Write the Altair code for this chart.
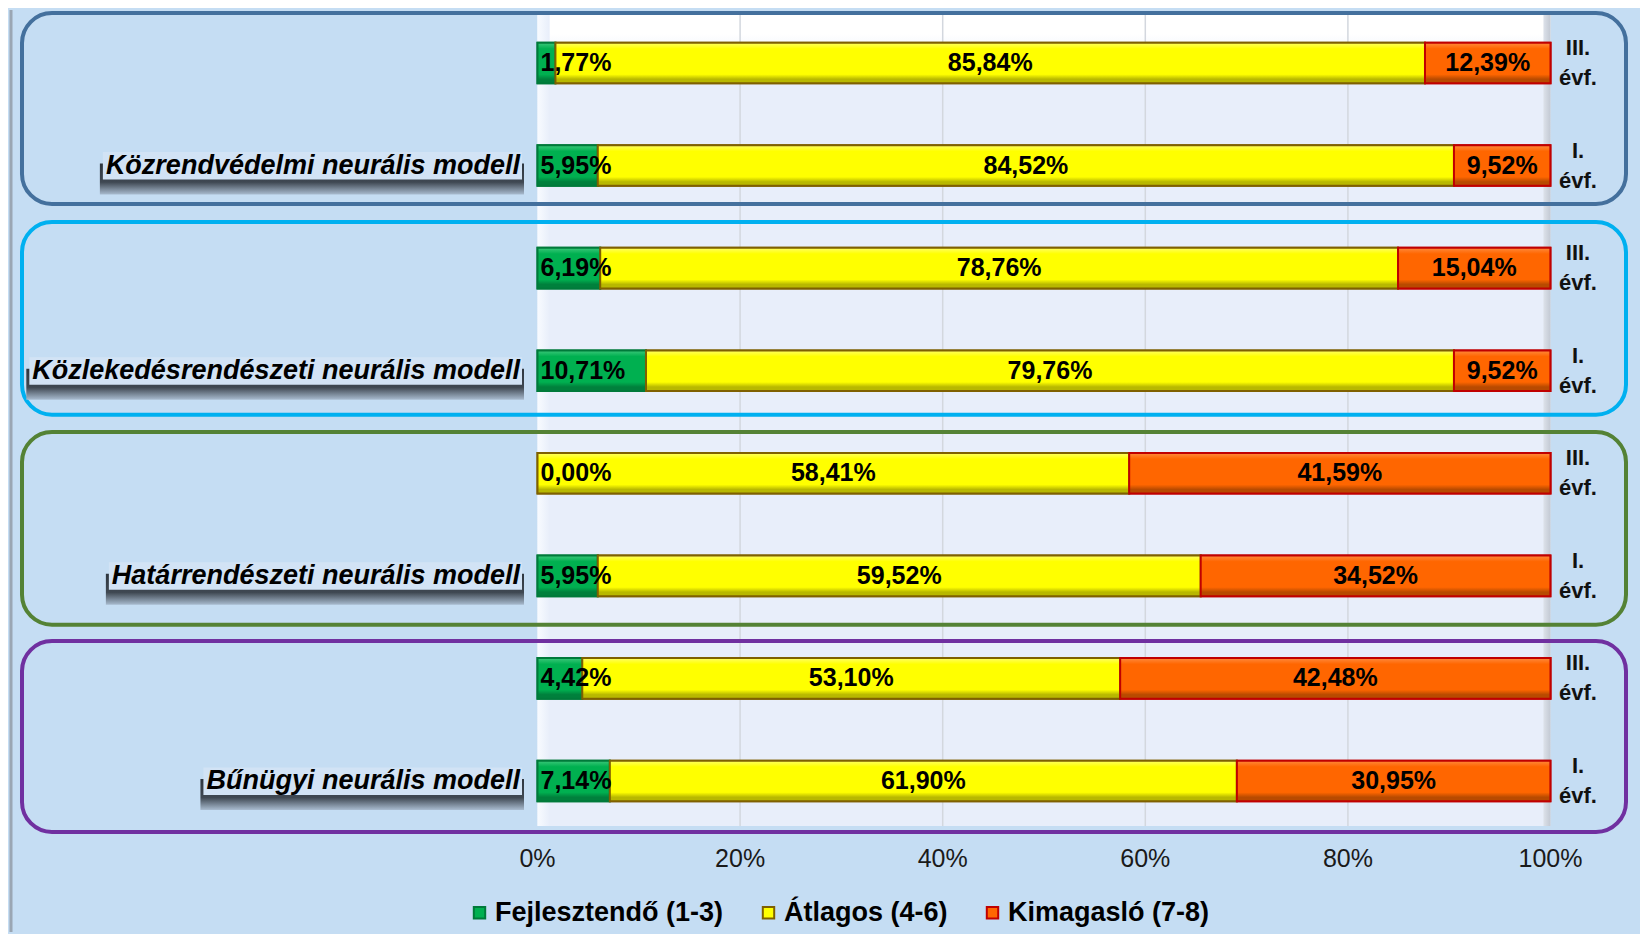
import altair as alt
import pandas as pd

# ---------------- data ----------------
models = [
    "Közrendvédelmi neurális modell",
    "Közlekedésrendészeti neurális modell",
    "Határrendészeti neurális modell",
    "Bűnügyi neurális modell",
]
years = ["III.\névf.", "I.\névf."]
categories = ["Fejlesztendő (1-3)", "Átlagos (4-6)", "Kimagasló (7-8)"]
fejl = [1.77, 5.95, 6.19, 10.71, 0.00, 5.95, 4.42, 7.14]
atl = [85.84, 84.52, 78.76, 79.76, 58.41, 59.52, 53.10, 61.90]
kim = [12.39, 9.52, 15.04, 9.52, 41.59, 34.52, 42.48, 30.95]
tick_values = [0, 20, 40, 60, 80, 100]
tick_labels = ["0%", "20%", "40%", "60%", "80%", "100%"]

# ---------------- styles ----------------
cat_fill = ["#00B050", "#FFFF00", "#FF6600"]
cat_stroke = ["#007A3A", "#7F6000", "#C00000"]
cat_light = ["#3CC87A", "#FFFF66", "#FF8A3D"]
cat_dark = ["#00803C", "#B8B800", "#B84A00"]
group_colors = ["#44709D", "#00B0F0", "#548235", "#7030A0"]
BG = "#C5DDF3"
WALL = "#E8EEFA"
FONT = "Liberation Sans"

W, H = 1632, 922
X0_PX, PX_PER = 529.5, 10.13       # pixel of 0 %, pixels per 1 %
ROW0_PX, ROW_PX = 53.0, 102.57     # pixel of first row centre, row spacing


def xv(px):
    return (px - X0_PX) / PX_PER


def yv(px):
    return (px - ROW0_PX) / ROW_PX


BH = 20.3 / ROW_PX

x_scale = alt.Scale(domain=[xv(0), xv(W)], nice=False, zero=False)
y_scale = alt.Scale(domain=[yv(0), yv(H)], nice=False, zero=False, reverse=True)

# approximate Arial-bold advance widths (per 1000 em) for sizing the label boxes
ADV = {c: 556 for c in "abcekstvxy"}
ADV.update({c: 611 for c in "bdghnopqu"})
ADV.update({"f": 333, "t": 333, "i": 278, "j": 278, "l": 278, "m": 889, "r": 389,
            "w": 778, "z": 500, " ": 278, "K": 722, "H": 722, "B": 722,
            "á": 556, "é": 556, "ö": 611, "ű": 611, "ü": 611})


def text_w(s, size):
    return sum(ADV.get(ch, 580) for ch in s) * size / 1000.0


def fmt(v):
    return f"{v:.2f}".replace(".", ",") + "%"


recs = []
for r in range(8):
    vals = [fejl[r], atl[r], kim[r]]
    start = 0.0
    for c in range(3):
        end = start + vals[c]
        recs.append(dict(row=r, cat=categories[c], ci=c, start=start, end=end,
                         mid=(start + end) / 2, value=vals[c], label=fmt(vals[c]),
                         y1=r - BH, y2=r + BH, zero=0.0))
        start = end
seg = pd.DataFrame(recs)
seg_pos = seg[seg.value > 0]

X = lambda f: alt.X(f, scale=x_scale, axis=None)
Y = lambda f: alt.Y(f, scale=y_scale, axis=None)

layers = []

# left frame line
frame = pd.DataFrame([dict(x=xv(3), y=yv(0), y2=yv(H))])
layers.append(alt.Chart(frame).mark_rule(color="#9AA6B3", strokeWidth=3).encode(
    x=X("x:Q"), y=Y("y:Q"), y2="y2:Q"))

# plot wall
WT, WB = 4, 816
wall = pd.DataFrame([dict(x=0, x2=100, y=yv(WT), y2=yv(WB))])
layers.append(alt.Chart(wall).mark_rect(
    fill=alt.LinearGradient(gradient="linear", x1=0, x2=0, y1=0, y2=1, stops=[
        alt.GradientStop(color="#FFFFFF", offset=0),
        alt.GradientStop(color="#FFFFFF", offset=0.025),
        alt.GradientStop(color=WALL, offset=0.06),
        alt.GradientStop(color=WALL, offset=1)])
).encode(x=X("x:Q"), x2="x2:Q", y=Y("y:Q"), y2="y2:Q"))
wall_l = pd.DataFrame([dict(x=0, x2=1.2, y=yv(WT), y2=yv(WB))])
layers.append(alt.Chart(wall_l).mark_rect(
    fill=alt.LinearGradient(gradient="linear", x1=0, x2=1, y1=0, y2=0, stops=[
        alt.GradientStop(color="#F8FBFF", offset=0),
        alt.GradientStop(color=WALL, offset=1)])
).encode(x=X("x:Q"), x2="x2:Q", y=Y("y:Q"), y2="y2:Q"))
wall_r = pd.DataFrame([dict(x=99.3, x2=100, y=yv(WT), y2=yv(WB))])
layers.append(alt.Chart(wall_r).mark_rect(
    fill=alt.LinearGradient(gradient="linear", x1=0, x2=1, y1=0, y2=0, stops=[
        alt.GradientStop(color="#DDE2EA", offset=0),
        alt.GradientStop(color="#C3C9D3", offset=1)])
).encode(x=X("x:Q"), x2="x2:Q", y=Y("y:Q"), y2="y2:Q"))

# grid lines
grid = pd.DataFrame([dict(x=v, y=yv(WT), y2=yv(WB)) for v in tick_values[1:-1]])
layers.append(alt.Chart(grid).mark_rule(color="#D3D7DE", strokeWidth=1.5).encode(
    x=X("x:Q"), y=Y("y:Q"), y2="y2:Q"))

# rounded group boxes
box_tops_px = [3, 212, 422, 631]
box_bots_px = [194, 404.7, 614.7, 822]
for g in range(4):
    bd = pd.DataFrame([dict(x=xv(14), x2=xv(1618), y=yv(box_tops_px[g]), y2=yv(box_bots_px[g]))])
    layers.append(alt.Chart(bd).mark_rect(
        fill="transparent", stroke=group_colors[g], strokeWidth=4, cornerRadius=30
    ).encode(x=X("x:Q"), x2="x2:Q", y=Y("y:Q"), y2="y2:Q"))

# model labels with shadowed boxes
LFS = 27
lab = pd.DataFrame([dict(text=m, row=2 * g + 1, w=text_w(m, LFS)) for g, m in enumerate(models)])
lab["sx"] = [xv(512 - w - 6) for w in lab.w]
lab["sx2"] = xv(516)
lab["sy"] = lab.row - 2 / ROW_PX
lab["sy2"] = lab.row + 29 / ROW_PX
lab["bx"] = [xv(512 - w - 3) for w in lab.w]
lab["bx2"] = xv(514)
lab["by"] = lab.row - 13.5 / ROW_PX
lab["by2"] = lab.row + 14 / ROW_PX
lab["tx"] = xv(512)
layers.append(alt.Chart(lab).mark_rect(
    fill=alt.LinearGradient(gradient="linear", x1=0, x2=0, y1=0, y2=1, stops=[
        alt.GradientStop(color="#2E363F", offset=0),
        alt.GradientStop(color="#3F4852", offset=0.6),
        alt.GradientStop(color="#A9BCD0", offset=1)])
).encode(x=X("sx:Q"), x2="sx2:Q", y=Y("sy:Q"), y2="sy2:Q"))
layers.append(alt.Chart(lab).mark_rect(fill="#D2E3F5").encode(
    x=X("bx:Q"), x2="bx2:Q", y=Y("by:Q"), y2="by2:Q"))
layers.append(alt.Chart(lab).mark_text(
    align="right", baseline="middle", font=FONT, fontSize=LFS, fontWeight="bold",
    fontStyle="italic", color="#000000"
).encode(x=X("tx:Q"), y=Y("row:Q"), text="text:N"))

# year labels
yl = pd.DataFrame([dict(text=years[r % 2], row=r, x=xv(1570)) for r in range(8)])
layers.append(alt.Chart(yl).mark_text(
    align="center", baseline="middle", font=FONT, fontSize=22, fontWeight="bold",
    color="#111111", lineBreak="\n", lineHeight=30, dy=-15
).encode(x=X("x:Q"), y=Y("row:Q"), text="text:N"))

# x tick labels (drawn through the x scale)
tk = pd.DataFrame(dict(v=tick_values, t=tick_labels))
tk["y"] = yv(849)
layers.append(alt.Chart(tk).mark_text(
    align="center", baseline="middle", font=FONT, fontSize=25, color="#1A1A1A"
).encode(x=X("v:Q"), y=Y("y:Q"), text="t:N"))

# base bars (carry legend)
leg = dict(orient="none", legendX=458, legendY=889, direction="horizontal", title=None,
           labelFontSize=27, labelFont=FONT, labelFontWeight="bold", labelColor="#000000",
           symbolType="square", symbolSize=130, symbolStrokeWidth=2, labelOffset=2,
           columnPadding=31, padding=0, labelLimit=400)
layers.append(alt.Chart(seg_pos).mark_rect(strokeWidth=2).encode(
    x=X("start:Q"), x2="end:Q",
    y=Y("y1:Q"), y2="y2:Q",
    fill=alt.Fill("cat:N", scale=alt.Scale(domain=categories, range=cat_fill),
                  legend=alt.Legend(**leg)),
    stroke=alt.Stroke("cat:N", scale=alt.Scale(domain=categories, range=cat_stroke),
                      legend=alt.Legend(**leg)),
))

# bevel overlays
for c in range(3):
    d = seg_pos[seg_pos.ci == c]
    layers.append(alt.Chart(d).mark_rect(
        stroke=cat_stroke[c], strokeWidth=2,
        fill=alt.LinearGradient(gradient="linear", x1=0, x2=0, y1=0, y2=1, stops=[
            alt.GradientStop(color=cat_light[c], offset=0),
            alt.GradientStop(color=cat_fill[c], offset=0.15),
            alt.GradientStop(color=cat_fill[c], offset=0.78),
            alt.GradientStop(color=cat_dark[c], offset=0.9),
            alt.GradientStop(color=cat_dark[c], offset=1)])
    ).encode(x=X("start:Q"), x2="end:Q", y=Y("y1:Q"), y2="y2:Q"))

# bar value labels
lab_font = dict(font=FONT, fontSize=25, fontWeight="bold", color="#000000", baseline="middle")
layers.append(alt.Chart(seg[seg.ci == 0]).mark_text(align="left", dx=3, **lab_font).encode(
    x=X("zero:Q"), y=Y("row:Q"), text="label:N"))
layers.append(alt.Chart(seg[seg.ci > 0]).mark_text(align="center", **lab_font).encode(
    x=X("mid:Q"), y=Y("row:Q"), text="label:N"))

chart = alt.layer(*layers).properties(
    width=W, height=H, padding=0, background=BG
).configure_view(stroke=None)

chart.save("out.html", embed_options={"renderer": "svg", "actions": False})
